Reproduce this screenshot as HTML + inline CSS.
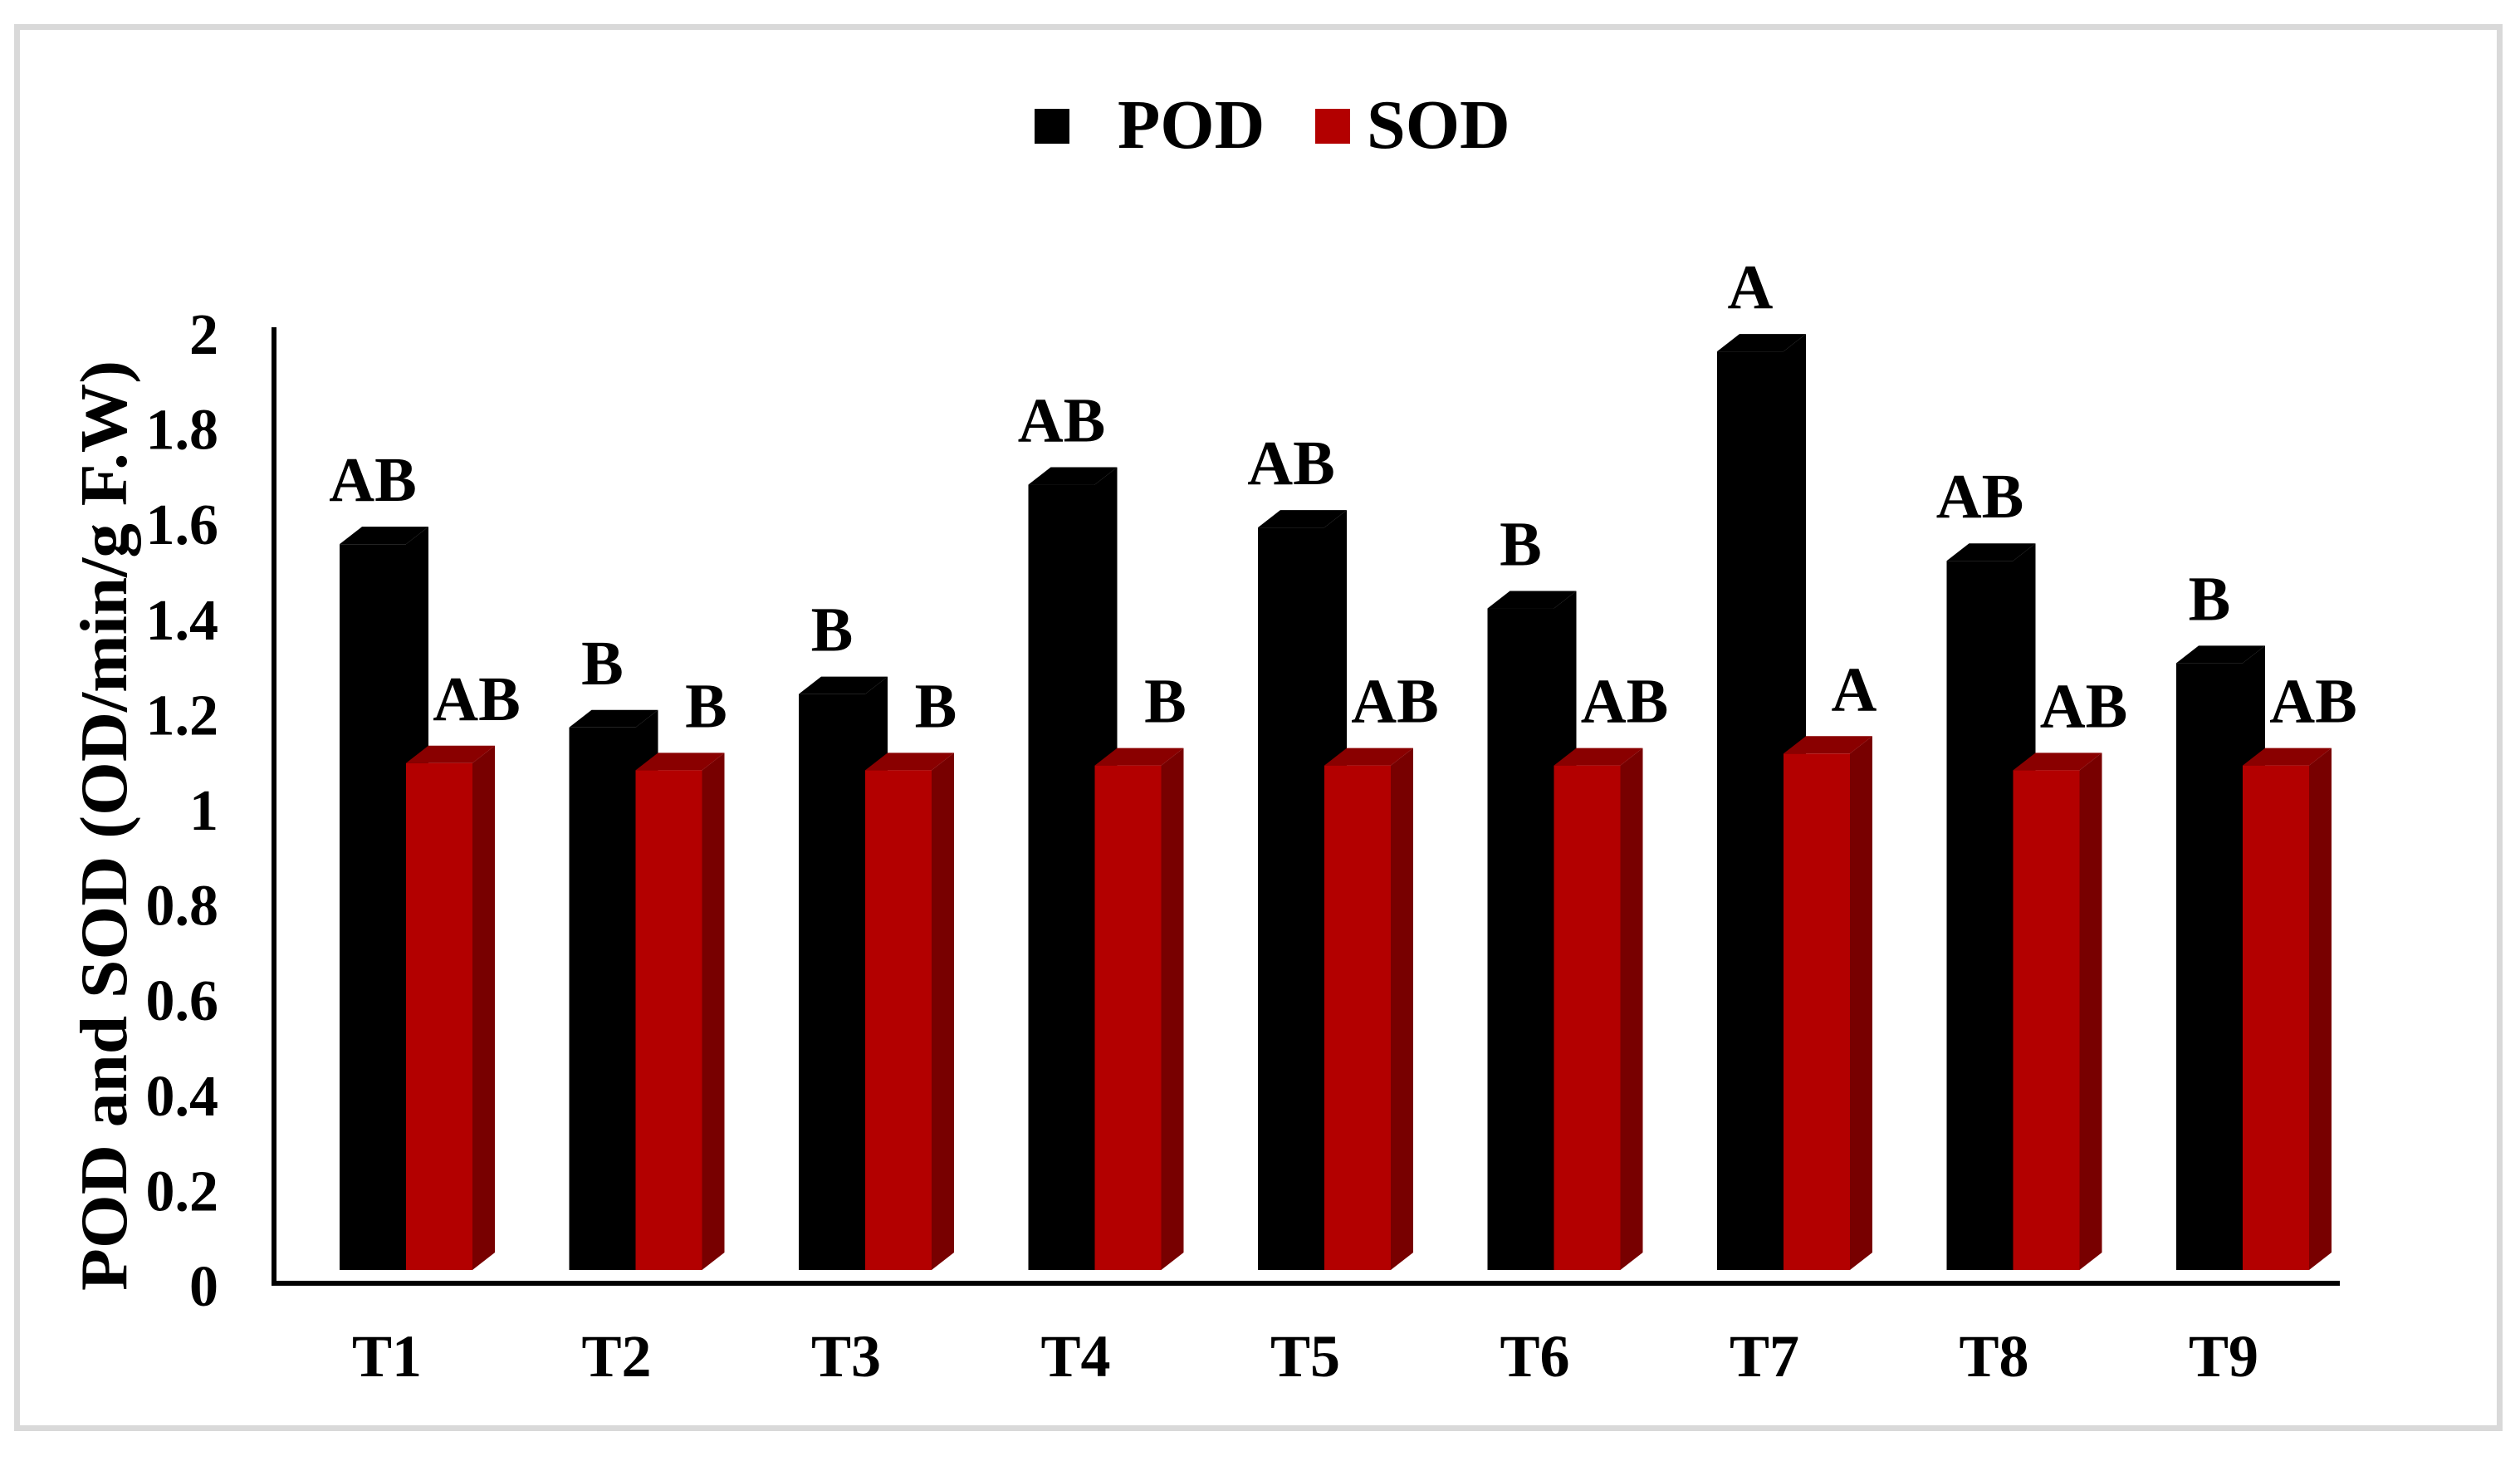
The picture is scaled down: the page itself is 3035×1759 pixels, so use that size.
<!DOCTYPE html>
<html><head><meta charset="utf-8"><style>
html,body{margin:0;padding:0;background:#fff;}
svg{display:block;font-family:"Liberation Serif",serif;font-weight:bold;}
</style></head><body>
<svg id="chart" width="3035" height="1759" viewBox="0 0 3035 1759" xmlns="http://www.w3.org/2000/svg">
<rect x="20.5" y="32.5" width="2990" height="1687" fill="#fff" stroke="#d9d9d9" stroke-width="7"/>
<g>
<rect x="1246" y="131" width="42" height="42" fill="#000"/>
<text x="1346" y="178" font-size="84">POD</text>
<rect x="1584" y="131" width="42" height="42" fill="#b30000"/>
<text x="1646" y="178" font-size="84">SOD</text>
</g>
<text transform="translate(152,994) rotate(-90)" text-anchor="middle" font-size="80" textLength="1120" lengthAdjust="spacingAndGlyphs">POD and SOD (OD/min/g F.W)</text>
<g id="yticks"></g>
<g id="bars"></g>
<g id="xlabels"></g>
<line x1="330" y1="394" x2="330" y2="1548" stroke="#000" stroke-width="6"/>
<line x1="327" y1="1545" x2="2818" y2="1545" stroke="#000" stroke-width="6"/>
</svg>
<script>
const categories = ["T1","T2","T3","T4","T5","T6","T7","T8","T9"];
const podValues = [1.525, 1.14, 1.21, 1.65, 1.56, 1.39, 1.93, 1.49, 1.275];
const sodValues = [1.065, 1.05, 1.05, 1.06, 1.06, 1.06, 1.085, 1.05, 1.06];
const podLetters = ["AB","B","B","AB","AB","B","A","AB","B"];
const sodLetters = ["AB","B","B","B","AB","AB","A","AB","AB"];
const yTickLabels = ["0","0.2","0.4","0.6","0.8","1","1.2","1.4","1.6","1.8","2"];
const yTickValues = [0,0.2,0.4,0.6,0.8,1,1.2,1.4,1.6,1.8,2];

const NS = "http://www.w3.org/2000/svg";
const unit = 573;
function yAxis(v){ return 1548 - unit * v; }
function yBar(v){ return 1529 - unit * v; }
function xGroup(i){ return 409 + i * 276.5; }
const W = 80, DX = 27, DY = 21;

function mk(tag, attrs, parent){
  const e = document.createElementNS(NS, tag);
  for (const k in attrs) e.setAttribute(k, attrs[k]);
  parent.appendChild(e); return e;
}
const yt = document.getElementById('yticks');
yTickValues.forEach((v, i) => {
  const t = mk('text', {x: 263, y: yAxis(v) + 24, 'text-anchor': 'end', 'font-size': 70}, yt);
  
  
  t.textContent = yTickLabels[i];
});

const bars = document.getElementById('bars');
function bar3d(x, v, front, top, side, name){
  const g = mk('g', {}, bars);
  
  
  const yt = yBar(v), yb = 1529;
  mk('polygon', {points: `${x+W},${yt} ${x+W+DX},${yt-DY} ${x+W+DX},${yb-DY} ${x+W},${yb}`, fill: side}, g);
  mk('polygon', {points: `${x},${yt} ${x+DX},${yt-DY} ${x+W+DX},${yt-DY} ${x+W},${yt}`, fill: top}, g);
  mk('rect', {x: x, y: yt, width: W, height: yb - yt, fill: front}, g);
}
function letter(x, y, s, name){
  const t = mk('text', {x: x, y: y, 'text-anchor': 'middle', 'font-size': 76}, bars);
  
  
  t.textContent = s;
}
const xl = document.getElementById('xlabels');
categories.forEach((c, i) => {
  const x0 = xGroup(i);
  bar3d(x0, podValues[i], '#000', '#000', '#000', 'bar-pod-' + c.toLowerCase());
  bar3d(x0 + W, sodValues[i], '#b30000', '#8a0000', '#780000', 'bar-sod-' + c.toLowerCase());
  letter(x0 + 40, yBar(podValues[i]) - 52, podLetters[i], 'pod-letter-' + c.toLowerCase());
  letter(x0 + W + 85, yBar(sodValues[i]) - 52, sodLetters[i], 'sod-letter-' + c.toLowerCase());
  const t = mk('text', {x: x0 + 57, y: 1657, 'text-anchor': 'middle', 'font-size': 72}, xl);
  
  
  t.textContent = c;
});
</script>
</body></html>
